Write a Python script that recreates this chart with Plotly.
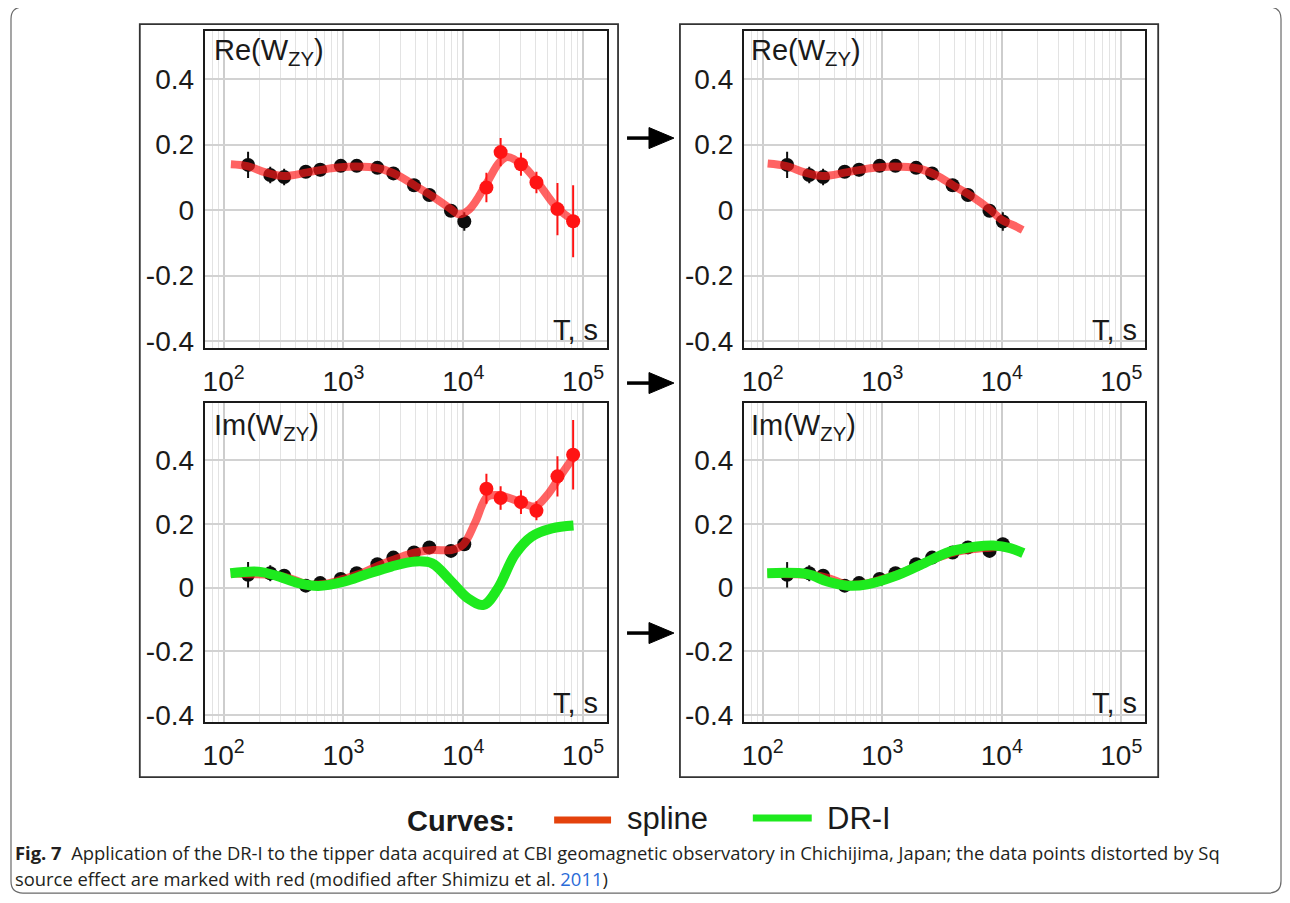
import plotly.graph_objects as go

# page body has an 8px margin; the photographed page is slightly squeezed vertically,
# so vertical positions are pre-stretched by SY
OFF = 8
SY = 1 / 0.99
W, H = 1290 - 2 * OFF, 896

# ---------------- data ----------------
period = [160, 245, 320, 485, 640, 950, 1290, 1920, 2610, 3880, 5210, 7890, 10200,
          15600, 20500, 30300, 40800, 61100, 82600]
distorted = [False] * 13 + [True] * 6

re_w = [0.138, 0.107, 0.101, 0.117, 0.123, 0.135, 0.135, 0.129, 0.112, 0.076, 0.046, -0.002, -0.035,
        0.069, 0.177, 0.140, 0.084, 0.003, -0.034]
re_err = [0.040, 0.025, 0.025, 0.012, 0.020, 0.012, 0.012, 0.012, 0.012, 0.012, 0.012, 0.015, 0.028,
          0.045, 0.043, 0.035, 0.033, 0.080, 0.110]

im_w = [0.040, 0.045, 0.037, 0.006, 0.014, 0.027, 0.045, 0.073, 0.094, 0.110, 0.126, 0.115, 0.136,
        0.310, 0.281, 0.268, 0.241, 0.349, 0.417]
im_err = [0.040, 0.025, 0.020, 0.012, 0.012, 0.010, 0.010, 0.010, 0.010, 0.010, 0.010, 0.010, 0.020,
          0.047, 0.037, 0.037, 0.030, 0.063, 0.109]

# spline curves (all data / undistorted data)
spl_re_all_T = [115, 158, 224, 316, 501, 794, 1259, 1995, 2818, 3981, 5623, 7943, 9120, 11220,
                15850, 19950, 23440, 31620, 41690, 60260, 83180]
spl_re_all_v = [0.140, 0.134, 0.115, 0.104, 0.115, 0.128, 0.133, 0.127, 0.107, 0.074, 0.040, 0.002,
                -0.013, 0.002, 0.085, 0.145, 0.162, 0.135, 0.085, 0.008, -0.032]
spl_re_ok_T = [110, 158, 224, 316, 501, 794, 1259, 1995, 2818, 3981, 5623, 7943, 10000, 12590, 14960]
spl_re_ok_v = [0.142, 0.134, 0.115, 0.104, 0.115, 0.128, 0.133, 0.127, 0.107, 0.074, 0.042, 0.002,
               -0.030, -0.047, -0.061]

spl_im_all_T = [115, 158, 251, 355, 501, 708, 1000, 1413, 1995, 2818, 3981, 5623, 7943, 10000,
                12590, 15850, 19950, 28180, 39810, 50120, 63100, 83180]
spl_im_all_v = [0.045, 0.042, 0.040, 0.030, 0.010, 0.012, 0.027, 0.045, 0.070, 0.092, 0.110, 0.118,
                0.118, 0.135, 0.205, 0.285, 0.290, 0.272, 0.255, 0.290, 0.345, 0.410]
spl_im_ok_T = [110, 158, 251, 355, 501, 708, 1000, 1413, 1995, 2818, 3981, 5623, 7943, 10000, 14960]
spl_im_ok_v = [0.045, 0.042, 0.040, 0.030, 0.010, 0.012, 0.027, 0.045, 0.070, 0.092, 0.110, 0.120,
               0.125, 0.128, 0.110]

# DR-I curves
dr_all_T = [114, 195, 288, 422, 617, 1023, 1514, 2512, 3981, 5495, 7943, 10960, 14790, 19500,
            26920, 37150, 54950, 83180]
dr_all_v = [0.045, 0.050, 0.035, 0.014, 0.005, 0.019, 0.040, 0.066, 0.082, 0.076, 0.019, -0.034,
            -0.054, -0.002, 0.103, 0.160, 0.186, 0.195]
dr_ok_T = [109, 237, 347, 513, 750, 1259, 2089, 3715, 6166, 8511, 11750, 15140]
dr_ok_v = [0.045, 0.042, 0.019, 0.006, 0.010, 0.035, 0.071, 0.113, 0.129, 0.132, 0.124, 0.108]

x_tickvals = [100, 1000, 10000, 100000]
x_ticktext = ["10<sup>2</sup>", "10<sup>3</sup>", "10<sup>4</sup>", "10<sup>5</sup>"]
y_tickvals = [-0.4, -0.2, 0, 0.2, 0.4]
y_ticktext = ["-0.4", "-0.2", "0", "0.2", "0.4"]
panel_titles = ["Re(W<sub>ZY</sub>)", "Im(W<sub>ZY</sub>)"]
legend_names = ["spline", "DR-I"]

# ---------------- styles ----------------
FONT = "Liberation Sans, Arial, Helvetica, sans-serif"
BLACK_PT = "#0d0d0d"
RED_PT = "#ff1414"
SPLINE = "rgba(255,25,25,0.68)"
GREEN = "#1eea1e"
LEG_RED = "#e4420c"

fig = go.Figure()


def px2p(px, py):
    """reference pixel -> paper coords"""
    return (px - OFF) / W, 1 - (py * SY - OFF) / H


def add_panel(k, vals, errs, splT, splV, drT=None, drV=None, only_ok=False):
    xa = "x" if k == 1 else f"x{k}"
    ya = "y" if k == 1 else f"y{k}"
    okT = [t for t, d in zip(period, distorted) if not d]
    okV = [v for v, d in zip(vals, distorted) if not d]
    okE = [e for e, d in zip(errs, distorted) if not d]
    fig.add_trace(go.Scatter(
        x=okT, y=okV, mode="markers", xaxis=xa, yaxis=ya, showlegend=False,
        marker=dict(size=14, color=BLACK_PT),
        error_y=dict(type="data", array=okE, visible=True, color=BLACK_PT, thickness=2, width=0)))
    fig.add_trace(go.Scatter(
        x=splT, y=splV, mode="lines", xaxis=xa, yaxis=ya, showlegend=False,
        line=dict(color=SPLINE, width=8, shape="spline", smoothing=1.0)))
    if not only_ok:
        bT = [t for t, d in zip(period, distorted) if d]
        bV = [v for v, d in zip(vals, distorted) if d]
        bE = [e for e, d in zip(errs, distorted) if d]
        fig.add_trace(go.Scatter(
            x=bT, y=bV, mode="markers", xaxis=xa, yaxis=ya, showlegend=False,
            marker=dict(size=14, color=RED_PT),
            error_y=dict(type="data", array=bE, visible=True, color=RED_PT, thickness=2, width=0)))
    if drT is not None:
        fig.add_trace(go.Scatter(
            x=drT, y=drV, mode="lines", xaxis=xa, yaxis=ya, showlegend=False,
            line=dict(color=GREEN, width=10, shape="spline", smoothing=1.0)))


add_panel(1, re_w, re_err, spl_re_all_T, spl_re_all_v)
add_panel(2, re_w, re_err, spl_re_ok_T, spl_re_ok_v, only_ok=True)
add_panel(3, im_w, im_err, spl_im_all_T, spl_im_all_v, dr_all_T, dr_all_v)
add_panel(4, im_w, im_err, spl_im_ok_T, spl_im_ok_v, dr_ok_T, dr_ok_v, only_ok=True)

# ---------------- axes ----------------
minor_vals = [m * 10 ** d for d in range(1, 6) for m in range(2, 10)]


def xdom(a, b):
    return [px2p(a, 0)[0], px2p(b, 0)[0]]


def ydom(top, bottom):
    return [px2p(0, bottom)[1], px2p(0, top)[1]]


xcommon = dict(type="log", range=[1.842, 5.2], tickmode="array", tickvals=x_tickvals,
               ticktext=x_ticktext, showgrid=True, gridcolor="#cdcdcd", gridwidth=1.5,
               minor=dict(tickmode="array", tickvals=minor_vals, showgrid=True,
                          gridcolor="#e3e3e3", gridwidth=1, ticks=""),
               showline=True, mirror=True, linecolor="#1a1a1a", linewidth=2,
               zeroline=False, ticks="outside", ticklen=7, tickcolor="rgba(0,0,0,0)",
               tickfont=dict(family=FONT, size=28, color="#1a1a1a"))
ycommon = dict(tickmode="array", tickvals=y_tickvals, ticktext=y_ticktext,
               showgrid=True, gridcolor="#d2d2d2", gridwidth=1.5,
               showline=True, mirror=True, linecolor="#1a1a1a", linewidth=2,
               zeroline=False, ticks="outside", ticklen=3, tickcolor="rgba(0,0,0,0)",
               tickfont=dict(family=FONT, size=28, color="#1a1a1a"))

layout_axes = {}
for k, xd, yd, yr in [(1, xdom(203, 606), ydom(31, 348), [-0.4214, 0.5466]),
                      (2, xdom(743, 1145), ydom(31, 348), [-0.4214, 0.5466]),
                      (3, xdom(203, 606), ydom(403, 722), [-0.422, 0.579]),
                      (4, xdom(743, 1145), ydom(403, 722), [-0.422, 0.579])]:
    xn = "xaxis" if k == 1 else f"xaxis{k}"
    yn = "yaxis" if k == 1 else f"yaxis{k}"
    ya = "y" if k == 1 else f"y{k}"
    xa = "x" if k == 1 else f"x{k}"
    layout_axes[xn] = dict(xcommon, domain=xd, anchor=ya)
    layout_axes[yn] = dict(ycommon, domain=yd, anchor=xa, range=yr)

fig.update_layout(**layout_axes)

# ---------------- shapes ----------------
shapes = []


def rect_px(x0, y0, x1, y1, color="#333333", width=1.8):
    a, b = px2p(x0, y0)
    c, d = px2p(x1, y1)
    return dict(type="rect", xref="paper", yref="paper", x0=a, y0=d, x1=c, y1=b,
                line=dict(color=color, width=width), layer="above")


def P(px, py):
    a, b = px2p(px, py)
    return f"{a:.5f},{b:.5f}"


# outer rounded frame (clamped to the visible figure area)
x0, y0, x1, y1, r = OFF + 1, 7, 1281, 893, 12
frame = (f"M{P(x0 + r, y0)} L{P(x1 - r, y0)} Q{P(x1, y0)} {P(x1, y0 + r)} "
         f"L{P(x1, y1 - r)} Q{P(x1, y1)} {P(x1 - r, y1)} L{P(x0 + r, y1)} "
         f"Q{P(x0, y1)} {P(x0, y1 - r)} L{P(x0, y0 + r)} Q{P(x0, y0)} {P(x0 + r, y0)} Z")
shapes.append(dict(type="path", xref="paper", yref="paper", path=frame,
                   line=dict(color="#6a6a6a", width=1.2)))

# column boxes
shapes.append(rect_px(138, 24, 617, 777))
shapes.append(rect_px(679, 24, 1158, 777))

# arrows between columns
for ay in [138, 383, 633]:
    a0, b0 = px2p(626, ay)
    a1, _ = px2p(652, ay)
    shapes.append(dict(type="line", xref="paper", yref="paper", x0=a0, y0=b0, x1=a1, y1=b0,
                       line=dict(color="#000000", width=3.5)))
    shapes.append(dict(type="path", xref="paper", yref="paper",
                       path=f"M{P(648, ay - 10.5)} L{P(673, ay)} L{P(648, ay + 10.5)} Z",
                       fillcolor="#000000", line=dict(color="#000000", width=1)))

# legend swatches
for (lx0, lx1, ly, col) in [(553, 610, 820, LEG_RED), (752, 811, 818, GREEN)]:
    a0, b0 = px2p(lx0, ly)
    a1, _ = px2p(lx1, ly)
    shapes.append(dict(type="line", xref="paper", yref="paper", x0=a0, y0=b0, x1=a1, y1=b0,
                       line=dict(color=col, width=7)))

fig.update_layout(shapes=shapes)

# ---------------- annotations ----------------
ann = []


def text_px(px, py, txt, size=28, xanchor="left", family=FONT, color="#1a1a1a"):
    a, b = px2p(px, py)
    ann.append(dict(xref="paper", yref="paper", x=a, y=b, text=txt, showarrow=False,
                    xanchor=xanchor, yanchor="middle",
                    font=dict(family=family, size=size, color=color)))


# panel titles and axis labels
for (tx, ty, title) in [(210, 52, panel_titles[0]), (748, 52, panel_titles[0]),
                        (210, 427, panel_titles[1]), (748, 427, panel_titles[1])]:
    text_px(tx, ty, title, size=29)
for (tx, ty) in [(599, 330), (1139, 330), (599, 703), (1139, 703)]:
    text_px(tx, ty, "T, s", size=29, xanchor="right")

# legend text
text_px(404, 821, "<b>Curves:</b>", size=29)
text_px(624, 818, legend_names[0], size=31)
text_px(824, 818, legend_names[1], size=31)

# caption
CAP = "Open Sans, Noto Sans, sans-serif"
text_px(11, 852, "<b>Fig. 7</b>\u00a0\u00a0Application of the DR-I to the tipper data acquired at CBI "
        "geomagnetic observatory in Chichijima, Japan; the data points distorted by Sq",
        size=18.4, family=CAP, color="#231f20")
text_px(11, 878, "source effect are marked with red (modified after Shimizu et al. "
        "<span style='color:#2a6bd8'>2011</span>)",
        size=18.4, family=CAP, color="#231f20")

fig.update_layout(annotations=ann)

fig.update_layout(width=W, height=H, margin=dict(l=0, r=0, t=0, b=0),
                  paper_bgcolor="white", plot_bgcolor="white", showlegend=False)

fig.write_html("out.html")
